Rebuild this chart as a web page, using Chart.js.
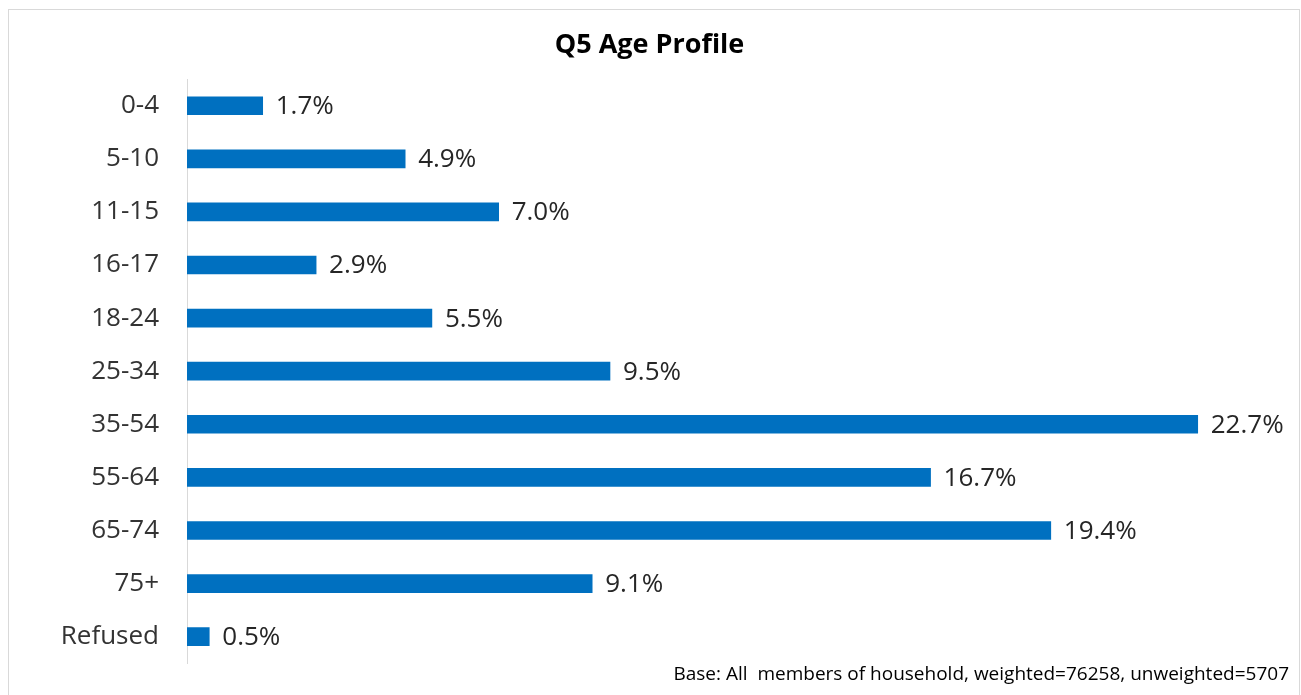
<!DOCTYPE html>
<html>
<head>
<meta charset="utf-8">
<script src="https://cdn.jsdelivr.net/npm/chart.js@4"></script>
<style>
  body { margin: 0; background: #fff; }
  #frame {
    position: absolute; left: 8px; top: 9px; width: 1292px; height: 700px;
    border: 1px solid #d9d9d9; box-sizing: border-box;
  }
  #wrap { position: absolute; left: 0; top: 0; width: 1301px; height: 695px; }
</style>
</head>
<body>
<div id="frame"></div>
<div id="wrap"><canvas id="ageChart"></canvas></div>
<script>
// Q5 age profile data
var ageGroups = ["0-4", "5-10", "11-15", "16-17", "18-24", "25-34", "35-54", "55-64", "65-74", "75+", "Refused"];
var agePercent = [1.7, 4.9, 7.0, 2.9, 5.5, 9.5, 22.7, 16.7, 19.4, 9.1, 0.5];
var chartTitle = "Q5 Age Profile";
var baseNote = "Base: All  members of household, weighted=76258, unweighted=5707";

var fontName = "'Open Sans', sans-serif";

// draw the % labels next to each bar
var barLabels = {
  id: "barLabels",
  afterDatasetsDraw: function(chart) {
    var ctx = chart.ctx;
    var meta = chart.getDatasetMeta(0);
    ctx.save();
    ctx.font = "26px " + fontName;
    ctx.fillStyle = "#262626";
    ctx.textAlign = "left";
    ctx.textBaseline = "middle";
    meta.data.forEach(function(bar, i) {
      ctx.fillText(agePercent[i].toFixed(1) + "%", bar.x + 13, bar.y + 1);
    });
    ctx.restore();
  }
};

var ctx = document.getElementById("ageChart");
var ageChart = new Chart(ctx, {
  type: "bar",
  data: {
    labels: ageGroups,
    datasets: [{
      label: "Age",
      data: agePercent,
      backgroundColor: "#0070C0",
      barThickness: 18
    }]
  },
  options: {
    indexAxis: "y",
    responsive: true,
    maintainAspectRatio: false,
    animation: false,
    layout: { padding: { left: 10, right: 12, top: 0, bottom: 0 } },
    plugins: {
      legend: { display: false },
      tooltip: { enabled: false },
      title: {
        display: true,
        text: chartTitle,
        color: "#000",
        font: { family: fontName, size: 27, weight: "bold", lineHeight: 1.2 },
        padding: { top: 29.6, bottom: 17.2 }
      },
      subtitle: {
        display: true,
        text: baseNote,
        position: "bottom",
        align: "end",
        color: "#000",
        font: { family: fontName, size: 19, lineHeight: 1.2 },
        padding: { top: 0, bottom: 9 }
      }
    },
    scales: {
      x: {
        display: false,
        min: 0,
        max: 24.75
      },
      y: {
        grid: { display: false },
        border: { display: true, color: "#d9d9d9", width: 1 },
        ticks: {
          color: "#333",
          padding: 20,
          font: { family: fontName, size: 26 }
        },
        afterFit: function(scale) {
          scale.width = 177;
          scale.paddingTop = 0;
          scale.paddingBottom = 0;
        }
      }
    }
  },
  plugins: [barLabels]
});
</script>
</body>
</html>
